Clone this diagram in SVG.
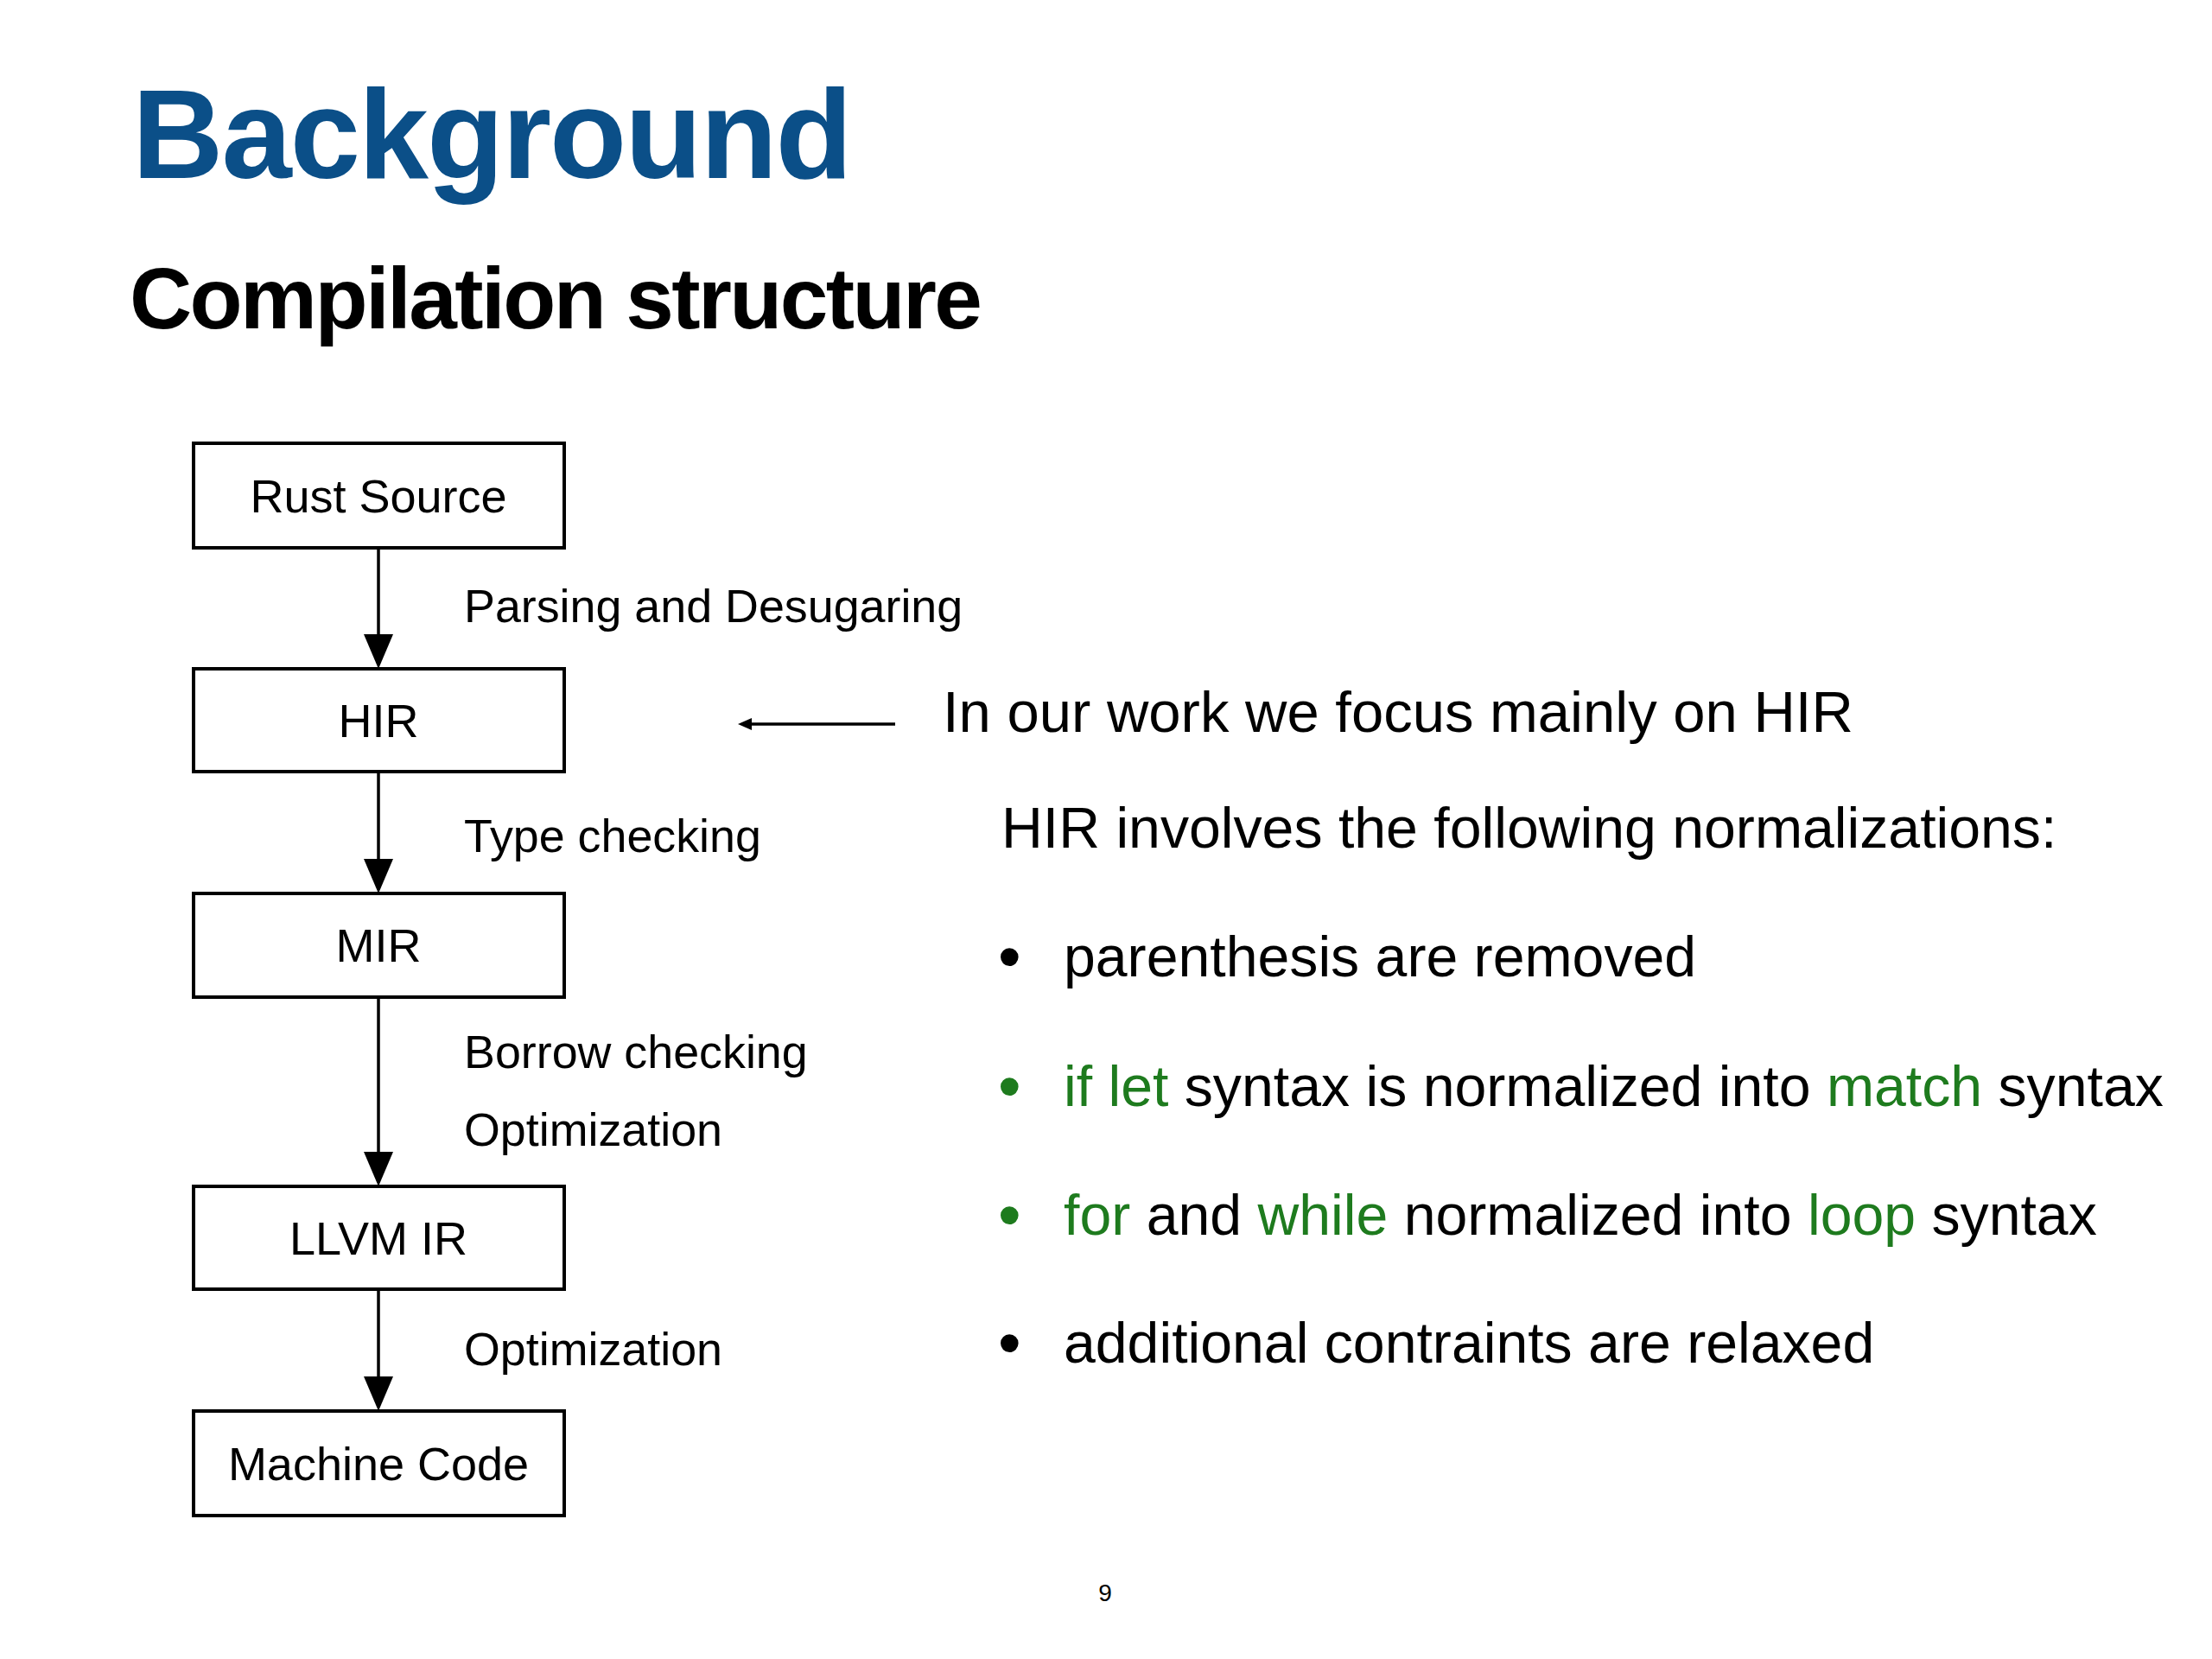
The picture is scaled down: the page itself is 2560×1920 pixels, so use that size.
<svg xmlns="http://www.w3.org/2000/svg" width="2560" height="1920" viewBox="0 0 2560 1920">
<style>
.t{font-family:"Liberation Sans",Arial,Helvetica,sans-serif;fill:#000}
.box{fill:#fff;stroke:#000;stroke-width:4}
.nl{font-size:54px;text-anchor:middle}
.el{font-size:53.8px}
.bt{font-size:66.2px}
.bu{font-size:76px}
.g{fill:#1e7b1e}
.edge{stroke:#000;stroke-width:3.5;fill:none}
</style>
<defs>
<marker id="ah" markerUnits="userSpaceOnUse" markerWidth="40" markerHeight="34" viewBox="0 0 40 34" refX="20" refY="17" orient="auto">
<path d="M0,0 L40,17 L0,34 z" fill="#000"/>
</marker>
<marker id="ahs" markerUnits="userSpaceOnUse" markerWidth="16" markerHeight="14" viewBox="0 0 16 14" refX="4" refY="7" orient="auto">
<path d="M0,0 L16,7 L0,14 z" fill="#000"/>
</marker>
</defs>
<rect width="2560" height="1920" fill="#fff"/>
<text class="t" x="153" y="206" style="font-size:146px;font-weight:bold;fill:#0b4f88;letter-spacing:-2px">Background</text>
<text class="t" x="150" y="380" style="font-size:100px;font-weight:bold;letter-spacing:-2.6px">Compilation structure</text>

<g id="connectors">
<line class="edge" x1="438" y1="634" x2="438" y2="754" marker-end="url(#ah)"/>
<line class="edge" x1="438" y1="893" x2="438" y2="1014" marker-end="url(#ah)"/>
<line class="edge" x1="438" y1="1154" x2="438" y2="1353" marker-end="url(#ah)"/>
<line class="edge" x1="438" y1="1492" x2="438" y2="1613" marker-end="url(#ah)"/>
<line class="edge" x1="1036" y1="838" x2="866" y2="838" stroke-width="3" marker-end="url(#ahs)"/>
</g>
<g id="edge-labels">
<text class="t el" x="537" y="720">Parsing and Desugaring</text>
<text class="t el" x="537" y="986">Type checking</text>
<text class="t el" x="537" y="1236">Borrow checking</text>
<text class="t el" x="537" y="1326">Optimization</text>
<text class="t el" x="537" y="1580">Optimization</text>
</g>

<g id="node-rust-source"><rect class="box" x="224" y="513" width="429" height="121"/><text class="t nl" x="438" y="593">Rust Source</text></g>
<g id="node-hir"><rect class="box" x="224" y="774" width="429" height="119"/><text class="t nl" x="438" y="853">HIR</text></g>
<g id="node-mir"><rect class="box" x="224" y="1034" width="429" height="120"/><text class="t nl" x="438" y="1113">MIR</text></g>
<g id="node-llvm-ir"><rect class="box" x="224" y="1373" width="429" height="119"/><text class="t nl" x="438" y="1452">LLVM IR</text></g>
<g id="node-machine-code"><rect class="box" x="224" y="1633" width="429" height="121"/><text class="t nl" x="438" y="1713">Machine Code</text></g>

<g id="notes">
<text class="t bt" x="1091" y="847" style="font-size:67px">In our work we focus mainly on HIR</text>
<text class="t bt" x="1159" y="981">HIR involves the following normalizations:</text>
<text class="t bu" x="1155" y="1133">•</text>
<text class="t bt" x="1231" y="1130">parenthesis are removed</text>
<text class="t bu g" x="1155" y="1283">•</text>
<text class="t bt" x="1231" y="1280"><tspan class="g">if let</tspan> syntax is normalized into <tspan class="g">match</tspan> syntax</text>
<text class="t bu g" x="1155" y="1432">•</text>
<text class="t bt" x="1231" y="1429"><tspan class="g">for</tspan> and <tspan class="g">while</tspan> normalized into <tspan class="g">loop</tspan> syntax</text>
<text class="t bu" x="1155" y="1580">•</text>
<text class="t bt" x="1231" y="1577">additional contraints are relaxed</text>
</g>
<text class="t" x="1279" y="1853" style="font-size:28px;text-anchor:middle">9</text>
</svg>
